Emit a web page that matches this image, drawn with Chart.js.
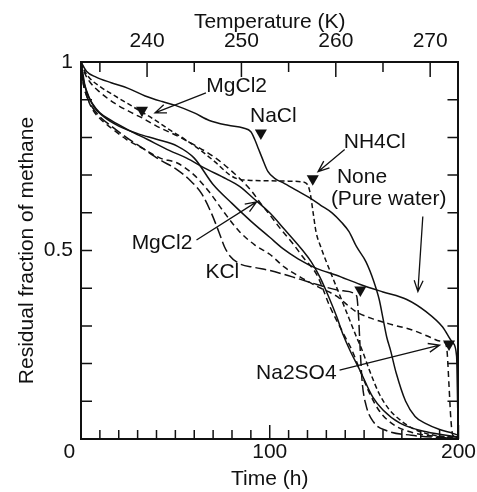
<!DOCTYPE html>
<html><head><meta charset="utf-8">
<script src="https://cdn.jsdelivr.net/npm/chart.js@4/dist/chart.umd.min.js"></script>
<style>html,body{margin:0;padding:0;background:#fff}canvas{display:block}</style>
</head><body>
<canvas id="c" width="477" height="492"></canvas>
<script>
// ---- data (time in h, residual fraction) ----
const naclT = [0,3,8,16,25,34,43,50,60,68,78,86,90,92,94,96,99,103,107,114,121,127,133,138,142,146,151,155,158,160,162,164,167,172,177,183,190,197,200];
const naclF = [1,0.975,0.96,0.945,0.93,0.91,0.895,0.885,0.865,0.845,0.832,0.825,0.815,0.795,0.77,0.745,0.71,0.69,0.68,0.66,0.64,0.62,0.60,0.575,0.55,0.51,0.47,0.42,0.37,0.32,0.27,0.235,0.175,0.10,0.06,0.04,0.025,0.015,0.01];
const waterT = [0,1,2,4,7,12,20,30,40,51,60,70,80,90,100,107,115,125,135,148,160,172.6,183,191.6,197,199,199.6,200];
const waterF = [1,0.97,0.94,0.91,0.88,0.855,0.83,0.81,0.795,0.777,0.745,0.675,0.625,0.578,0.535,0.505,0.478,0.452,0.435,0.41,0.39,0.37,0.337,0.297,0.255,0.22,0.08,0];
const mgLowT = [0,1,3,6,10,16,25,35,47,56,65,77,84,91,100,108,117.5,122,126.5,131,135.5,139,142.4,147.7,154.6,160,169,183,200];
const mgLowF = [1,0.96,0.92,0.89,0.865,0.845,0.82,0.795,0.765,0.745,0.72,0.69,0.67,0.64,0.60,0.555,0.50,0.47,0.43,0.38,0.324,0.275,0.236,0.183,0.111,0.077,0.042,0.019,0.005];
const nh4T = [0,2,5,10,18,28,38,47,55,63,71,79,83,90,100,110,117,120,121.5,123,124.5,127,130,134,138,142,146,149,153,158,163,168,175,185,200];
const nh4F = [1,0.975,0.955,0.935,0.91,0.88,0.85,0.82,0.795,0.767,0.735,0.70,0.69,0.686,0.685,0.684,0.682,0.675,0.65,0.6,0.55,0.51,0.47,0.42,0.37,0.32,0.27,0.235,0.18,0.12,0.08,0.055,0.03,0.012,0.004];
const mgUpT = [0,2,5,10,18,27,33,40,51,60,70,80,90,95,100,105,112,118,125,132,139,143.5,148,153,158,165,175,188,200];
const mgUpF = [1,0.97,0.945,0.92,0.89,0.865,0.85,0.83,0.804,0.78,0.75,0.71,0.66,0.626,0.595,0.562,0.52,0.48,0.435,0.35,0.28,0.236,0.18,0.12,0.075,0.04,0.018,0.007,0.003];
const kclT = [0,1,3,6,10,16,24,33,42,51,58,64,69,73,76,79,84,92,100,112,125,139,146,147,148,149,151,155,162,175,190,200];
const kclF = [1,0.95,0.91,0.88,0.855,0.83,0.80,0.77,0.74,0.714,0.685,0.65,0.60,0.55,0.51,0.485,0.465,0.455,0.447,0.43,0.41,0.393,0.38,0.33,0.23,0.15,0.09,0.045,0.022,0.01,0.004,0.002];
const naso4T = [0,1,3,6,10,16,24,33,42,51,60,68,76,84,92,100,108,116,125,135,146,155,165,175,185,190,193,194,195,196,197,200];
const naso4F = [1,0.95,0.91,0.875,0.85,0.825,0.795,0.77,0.745,0.732,0.70,0.655,0.60,0.55,0.515,0.49,0.455,0.43,0.405,0.38,0.337,0.318,0.303,0.29,0.27,0.26,0.255,0.23,0.14,0.05,0.01,0.003];
// eutectic markers
const markT = [32.3, 95.3, 122.8, 148, 195];
const markF = [0.872, 0.812, 0.69, 0.395, 0.252];
// tick values
const timeTicks = [0,10,20,30,40,50,60,70,80,90,100,110,120,130,140,150,160,170,180,190,200];
const timeLabels = [0,100,200];
const tempTicks = [235,240,245,250,255,260,265,270];
const tempLabels = [240,250,260,270];
const fracTicks = [0,0.1,0.2,0.3,0.4,0.5,0.6,0.7,0.8,0.9,1];
const fracLabels = [0.5,1];
// annotations
const noteText = ['MgCl2','NaCl','NH4Cl','None','(Pure water)','MgCl2','KCl','Na2SO4'];
const noteT = [82.5,101.9,155.6,148.9,163,42.9,74.9,114.1];
const noteF = [0.935,0.855,0.786,0.694,0.637,0.519,0.442,0.174];
const arrFromT = [66.2,139.7,181.1,61.2,137];
const arrFromF = [0.918,0.768,0.590,0.528,0.183];
const arrToT = [39.2,125.6,178.5,93,190];
const arrToF = [0.865,0.709,0.391,0.629,0.249];

const FONT = '"Liberation Sans", Arial, Helvetica, sans-serif';
const INK = '#111';
const FS = 21;

function pts(t, f) { return t.map((v, i) => ({x: v, y: f[i]})); }
function line(t, f, dash) {
  return {data: pts(t, f), borderColor: INK, borderWidth: 1.5, borderDash: dash,
    pointRadius: 0, fill: false, cubicInterpolationMode: 'monotone', xAxisID: 'x', yAxisID: 'y'};
}

const tickPlugin = {
  id: 'inTicks',
  afterDatasetsDraw(chart) {
    const {ctx, chartArea: a, scales} = chart;
    ctx.save();
    ctx.strokeStyle = INK; ctx.lineWidth = 1.5;
    ctx.beginPath();
    scales.x.ticks.forEach(tk => {
      const p = scales.x.getPixelForValue(tk.value);
      const L = tk.value % 100 === 0 ? 14 : 9;
      ctx.moveTo(p, a.bottom); ctx.lineTo(p, a.bottom - L);
    });
    scales.x2.ticks.forEach(tk => {
      const p = scales.x2.getPixelForValue(tk.value);
      const L = tk.value % 10 === 0 ? 15 : 10;
      ctx.moveTo(p, a.top); ctx.lineTo(p, a.top + L);
    });
    scales.y.ticks.forEach(tk => {
      const p = scales.y.getPixelForValue(tk.value);
      ctx.moveTo(a.left, p); ctx.lineTo(a.left + 11, p);
    });
    scales.y2.ticks.forEach(tk => {
      const p = scales.y2.getPixelForValue(tk.value);
      ctx.moveTo(a.right, p); ctx.lineTo(a.right - 11, p);
    });
    ctx.stroke();
    ctx.restore();
  }
};

const notePlugin = {
  id: 'notes',
  afterDatasetsDraw(chart) {
    const {ctx, scales} = chart;
    const X = v => scales.x.getPixelForValue(v), Y = v => scales.y.getPixelForValue(v);
    ctx.save();
    ctx.fillStyle = INK; ctx.font = FS + 'px ' + FONT;
    ctx.textAlign = 'center'; ctx.textBaseline = 'middle';
    noteText.forEach((s, i) => ctx.fillText(s, X(noteT[i]), Y(noteF[i])));
    ctx.strokeStyle = INK; ctx.lineWidth = 1.3;
    arrFromT.forEach((_, i) => {
      const x0 = X(arrFromT[i]), y0 = Y(arrFromF[i]), x1 = X(arrToT[i]), y1 = Y(arrToF[i]);
      const ang = Math.atan2(y1 - y0, x1 - x0), h = 12, w = 0.38;
      ctx.beginPath();
      ctx.moveTo(x0, y0); ctx.lineTo(x1, y1);
      ctx.moveTo(x1 - h * Math.cos(ang - w), y1 - h * Math.sin(ang - w));
      ctx.lineTo(x1, y1);
      ctx.lineTo(x1 - h * Math.cos(ang + w), y1 - h * Math.sin(ang + w));
      ctx.stroke();
    });
    ctx.restore();
  }
};

const border = {display: true, color: INK, width: 2};
const noGrid = {display: false, drawTicks: false, tickLength: 0};
const tickFont = {family: FONT, size: FS};
const titleFont = {family: FONT, size: FS};

new Chart(document.getElementById('c'), {
  type: 'line',
  data: {datasets: [
    line(naclT, naclF, []),
    line(waterT, waterF, []),
    line(mgLowT, mgLowF, []),
    line(nh4T, nh4F, [5, 3]),
    line(mgUpT, mgUpF, [6, 4]),
    line(kclT, kclF, [11, 4]),
    line(naso4T, naso4F, [6, 4]),
    {data: pts(markT, markF), showLine: false, pointStyle: 'triangle', rotation: 180,
     pointRadius: 7, backgroundColor: INK, borderColor: INK, borderWidth: 0, xAxisID: 'x', yAxisID: 'y'}
  ]},
  options: {
    responsive: false, animation: false, events: [],
    layout: {padding: 0},
    plugins: {legend: {display: false}, tooltip: {enabled: false}},
    scales: {
      x: {type: 'linear', position: 'bottom', min: 0, max: 200,
        afterBuildTicks: s => { s.ticks = timeTicks.map(v => ({value: v})); },
        ticks: {autoSkip: false, maxRotation: 0, padding: 1, color: INK, font: tickFont,
          callback: v => v === 0 ? '0    ' : (timeLabels.includes(v) ? String(v) : '')},
        grid: noGrid, border,
        title: {display: true, text: 'Time (h)', color: INK, font: titleFont, padding: {top: 0, bottom: 0}},
        afterFit: s => { s.height = 53; }},
      x2: {type: 'linear', position: 'top', min: 233, max: 273,
        afterBuildTicks: s => { s.ticks = tempTicks.map(v => ({value: v})); },
        ticks: {autoSkip: false, maxRotation: 0, padding: 8, color: INK, font: tickFont,
          callback: v => tempLabels.includes(v) ? String(v) : ''},
        grid: noGrid, border,
        title: {display: true, text: 'Temperature (K)', color: INK, font: titleFont, padding: {top: 10, bottom: 0}},
        afterFit: s => { s.height = 62; }},
      y: {type: 'linear', position: 'left', min: 0, max: 1,
        afterBuildTicks: s => { s.ticks = fracTicks.map(v => ({value: v})); },
        ticks: {autoSkip: false, padding: 8, color: INK, font: tickFont,
          callback: v => fracLabels.includes(v) ? String(v) : ''},
        grid: noGrid, border,
        title: {display: true, text: 'Residual fraction of methane', color: INK, font: titleFont, padding: {top: 15, bottom: 0}},
        afterFit: s => { s.width = 81; }},
      y2: {type: 'linear', position: 'right', min: 0, max: 1,
        afterBuildTicks: s => { s.ticks = fracTicks.map(v => ({value: v})); },
        ticks: {display: false}, grid: noGrid, border,
        afterFit: s => { s.width = 18; }}
    }
  },
  plugins: [tickPlugin, notePlugin]
});
</script></body></html>
